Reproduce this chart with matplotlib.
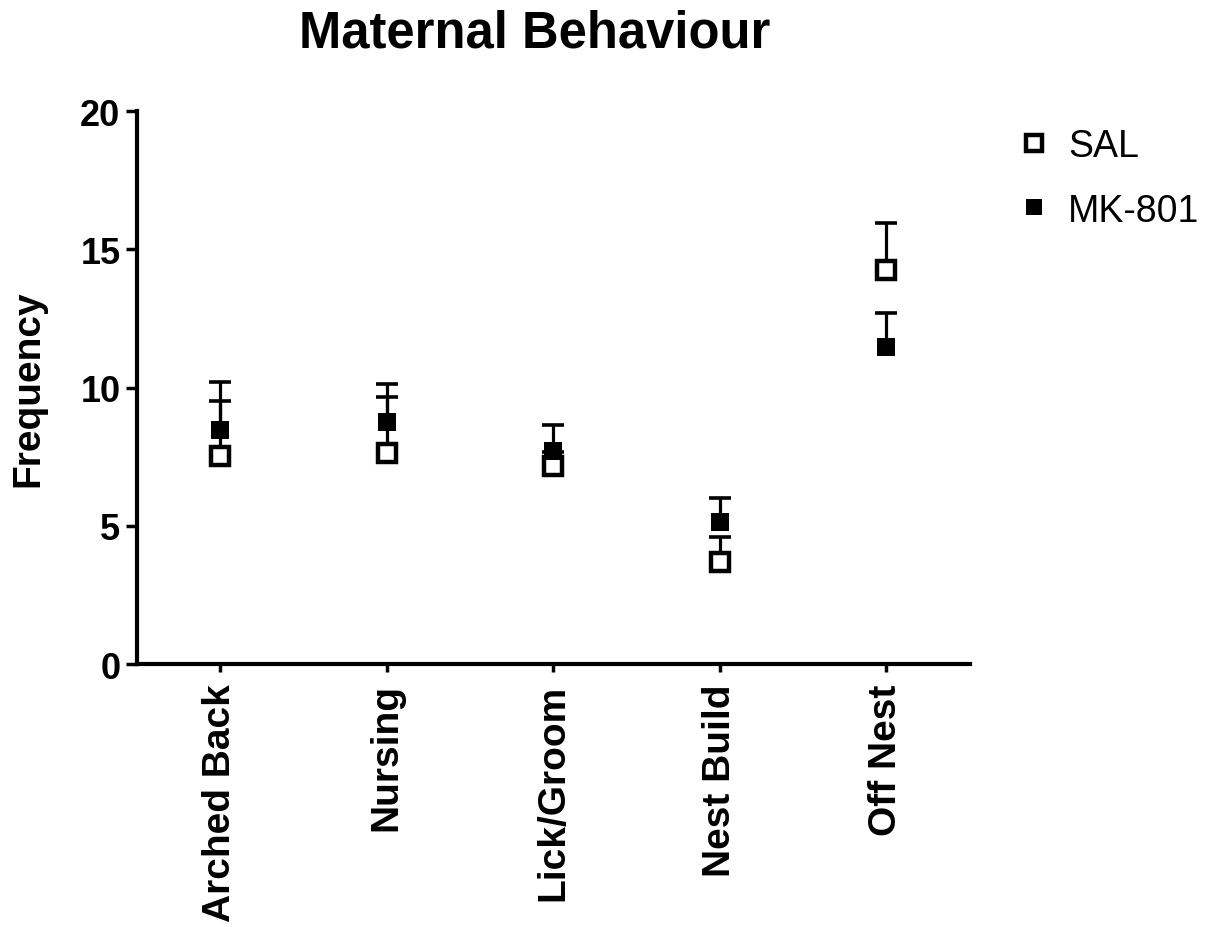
import numpy as np
import matplotlib.pyplot as plt

plt.rcParams['font.family'] = ['Liberation Sans', 'DejaVu Sans']

behaviours = ['Arched Back', 'Nursing', 'Lick/Groom', 'Nest Build', 'Off Nest']
sal_mean = [7.53, 7.63, 7.17, 3.70, 14.25]
sal_sem = [1.99, 2.03, 0.50, 0.90, 1.70]
mk_mean = [8.47, 8.75, 7.71, 5.13, 11.48]
mk_sem = [1.74, 1.38, 0.93, 0.86, 1.21]

x = np.arange(len(behaviours))

fig = plt.figure(figsize=(12.15, 9.28), dpi=100)
ax = fig.add_axes([0.1128, 0.2834, 0.6852, 0.5956])


def upper_bars(ax, mean, sem, z):
    # stem and cap for the upper half of each error bar
    mean = np.asarray(mean)
    top = mean + np.asarray(sem)
    ax.vlines(x, mean, top, color='black', lw=2.3, zorder=z)
    ax.plot(x, top, ls='none', marker='_', ms=16, mew=2.6, color='black', zorder=z)


upper_bars(ax, sal_mean, sal_sem, 2)
sal = ax.plot(x, sal_mean, ls='none', marker='s', ms=13.5, mfc='white',
              mec='black', mew=3.2, label='SAL', zorder=3)[0]
upper_bars(ax, mk_mean, mk_sem, 4)
mk = ax.plot(x, mk_mean, ls='none', marker='s', ms=13.5, mfc='black',
             mec='black', mew=0, label='MK-801', zorder=5)[0]

ax.set_xlim(-0.5, 4.5)
ax.set_ylim(0, 20)
ax.set_yticks([0, 5, 10, 15, 20])
ax.set_xticks(x)
ax.set_xticklabels(behaviours, rotation=90, fontsize=28, fontweight='bold')
for lab in ax.get_yticklabels():
    lab.set_fontsize(26)
    lab.set_fontweight('bold')

for side in ['top', 'right']:
    ax.spines[side].set_visible(False)
for side in ['left', 'bottom']:
    ax.spines[side].set_linewidth(3)
ax.tick_params(axis='y', length=8, width=2.5, pad=4)
ax.tick_params(axis='x', length=6, width=2.5, pad=8)

ax.set_ylabel('Frequency', fontsize=28, fontweight='bold', labelpad=24)
fig.text(0.44, 0.963, 'Maternal Behaviour', fontsize=36.5, fontweight='bold',
         ha='center', va='center')

ax.legend([sal, mk], ['SAL', 'MK-801'], loc='upper left',
          bbox_to_anchor=(1.01, 1.03), frameon=False, fontsize=27,
          handletextpad=0.3, labelspacing=0.75, markerscale=0.9,
          handlelength=1.2)

fig.savefig('out.png', dpi=100)
